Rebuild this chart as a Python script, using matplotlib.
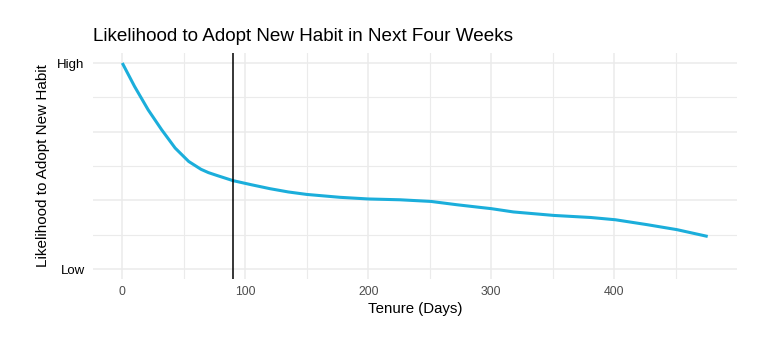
import numpy as np
import matplotlib
matplotlib.use('Agg')
import matplotlib.pyplot as plt

plt.rcParams['font.family'] = ['Liberation Sans', 'DejaVu Sans']

# curve (tenure in days, likelihood 0=Low..1=High)
tenure = [0, 10, 21, 32, 43, 54, 59, 64, 70, 77, 90, 105, 120, 135, 150,
          177, 200, 226, 251, 272, 291, 300, 318, 351, 381, 401, 427, 451, 476]
likelihood = [1.0, 0.886, 0.773, 0.676, 0.587, 0.522, 0.503, 0.484, 0.468,
              0.454, 0.429, 0.409, 0.39, 0.374, 0.362, 0.348, 0.34, 0.336,
              0.328, 0.312, 0.299, 0.293, 0.277, 0.26, 0.25, 0.239, 0.215,
              0.191, 0.158]
cutoff_day = 90

x_ticks = [0, 100, 200, 300, 400]
y_ticks = [0, 1 / 3, 2 / 3, 1]
y_labels = ['Low', '', '', 'High']

line_color = '#1BAEDB'
grid_color = '#EBEBEB'

fig = plt.figure(figsize=(7.6, 3.5), dpi=100)
ax = fig.add_axes([0.1224, 0.202, 0.8473, 0.6474])

ax.plot(tenure, likelihood, color=line_color, lw=2.2, solid_capstyle='butt',
        solid_joinstyle='round', zorder=3)
ax.axvline(cutoff_day, color='black', lw=1.1, zorder=4)

xmin, xmax = 0, max(tenure)
pad = 0.05 * (xmax - xmin)
ax.set_xlim(xmin - pad, xmax + pad)
ax.set_ylim(-0.05, 1.05)

ax.set_xticks(x_ticks)
ax.set_xticks([50, 150, 250, 350, 450], minor=True)
ax.set_yticks(y_ticks)
ax.set_yticks([1 / 6, 0.5, 5 / 6], minor=True)
ax.set_yticklabels(y_labels)

ax.grid(which='major', color=grid_color, lw=1.1)
ax.grid(which='minor', color=grid_color, lw=0.8)
ax.set_axisbelow(True)
for s in ax.spines.values():
    s.set_visible(False)
ax.tick_params(which='both', length=0)
ax.tick_params(axis='x', labelsize=8.8, labelcolor='#4D4D4D', pad=5)
ax.tick_params(axis='y', labelsize=9.5, labelcolor='black', pad=6)

ax.set_xlabel('Tenure (Days)', fontsize=10.8, labelpad=3)
ax.set_ylabel('Likelihood to Adopt New Habit', fontsize=11, labelpad=5)

fig.text(0.1224, 1 - 40.7 / 350, 'Likelihood to Adopt New Habit in Next Four Weeks',
         fontsize=13.6, ha='left', va='baseline')

fig.savefig('out.png', dpi=100)
